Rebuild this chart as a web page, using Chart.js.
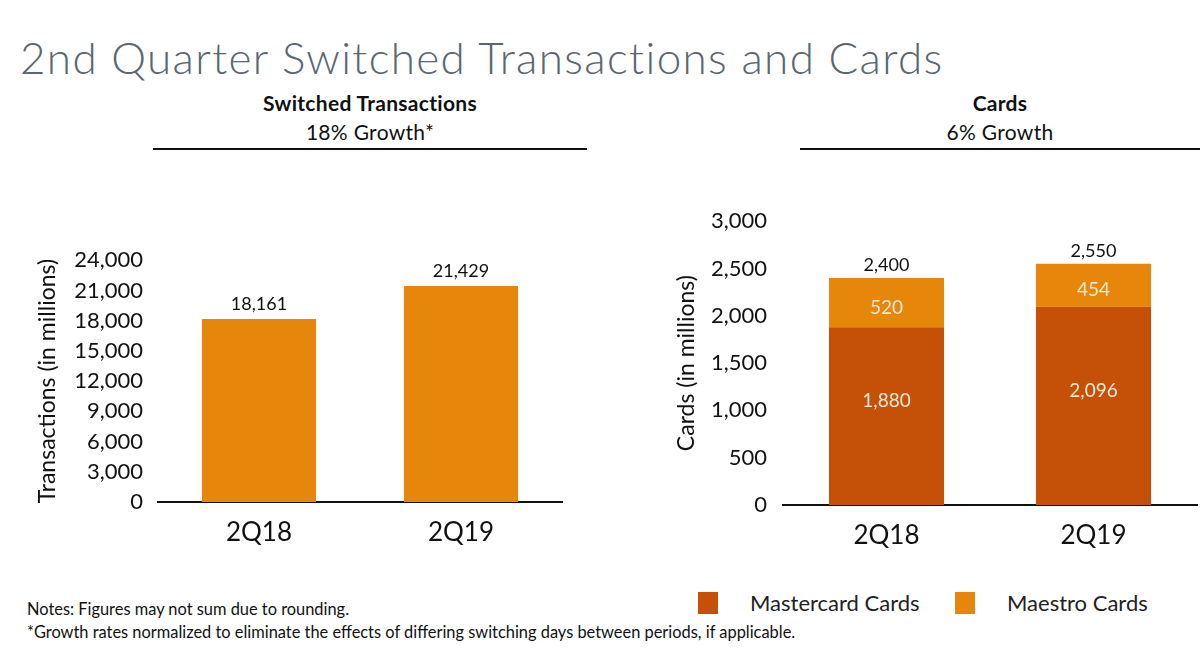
<!DOCTYPE html>
<html>
<head>
<meta charset="utf-8">
<script src="https://cdn.jsdelivr.net/npm/chart.js@4.4.1/dist/chart.umd.min.js"></script>
<style>
  body { margin: 0; width: 1200px; height: 651px; background: #fff; font-family: Lato, "Noto Sans", sans-serif; position: relative; overflow: hidden; }
  .abs { position: absolute; }
  #title { left: 20px; top: 31px; font-size: 44px; font-weight: 300; color: #5b6670; white-space: nowrap; letter-spacing: 1.35px; }
  .head { text-align: center; color: #111; font-size: 21px; line-height: 29px; letter-spacing: 0.3px; border-bottom: 2px solid #111; }
  .head b { font-weight: 700; }
  .notes { left: 27px; font-size: 16.4px; color: #111; white-space: nowrap; }
  .legend { top: 589px; font-size: 22px; color: #222; display: flex; align-items: center; }
  .legend span.sw { display: inline-block; width: 20px; height: 22px; margin-right: 32px; }
</style>
</head>
<body>
<div id="title" class="abs">2nd Quarter Switched Transactions and Cards</div>

<div class="abs head" style="left:153px; top:88px; width:434px; height:60px;">
  <b>Switched Transactions</b><br>18% Growth*
</div>
<div class="abs head" style="left:800px; top:88px; width:400px; height:60px;">
  <b>Cards</b><br>6% Growth
</div>

<canvas id="txChart" class="abs" width="580" height="320" style="left:0; top:240px;"></canvas>
<canvas id="cardChart" class="abs" width="600" height="360" style="left:600px; top:200px;"></canvas>

<div class="abs legend" style="left:698px;"><span class="sw" id="swMc"></span>Mastercard Cards</div>
<div class="abs legend" style="left:955px;"><span class="sw" id="swMa"></span>Maestro Cards</div>

<div class="abs notes" style="top:599px;">Notes: Figures may not sum due to rounding.</div>
<div class="abs notes" style="top:622px;">*Growth rates normalized to eliminate the effects of differing switching days between periods, if applicable.</div>

<script>
// data
const quarters = ['2Q18', '2Q19'];
const transactions = [18161, 21429];
const mastercardCards = [1880, 2096];
const maestroCards = [520, 454];
const cardTotals = [2400, 2550];

const darkOrange = '#c55109';
const lightOrange = '#e6870b';
const font = 'Lato, "Noto Sans", sans-serif';

document.getElementById('swMc').style.background = darkOrange;
document.getElementById('swMa').style.background = lightOrange;

const fmt = (v) => v.toLocaleString('en-US');

// fixed box sizes so the plot areas land where they are on the slide
function fixWidth(w) { return (scale) => { scale.width = w; }; }
function fixHeight(h) { return (scale) => { scale.height = h; }; }

const barLabels = {
    id: 'barLabels',
    afterDatasetsDraw(chart, args, opts) {
        const c = chart.ctx;
        c.save();
        c.textAlign = 'center';
        c.textBaseline = 'middle';
        chart.data.datasets.forEach((ds, di) => {
            const meta = chart.getDatasetMeta(di);
            meta.data.forEach((bar, i) => {
                if (opts.inside) {
                    c.font = '19px ' + font;
                    c.fillStyle = '#fbe9d8';
                    const mid = (bar.y + bar.base) / 2 + (opts.shift[di] || 0);
                    c.fillText(fmt(ds.data[i]), bar.x, mid);
                }
            });
        });
        if (opts.totals) {
            const last = chart.getDatasetMeta(chart.data.datasets.length - 1);
            c.font = '18px ' + font;
            c.fillStyle = '#111';
            last.data.forEach((bar, i) => {
                c.fillText(fmt(opts.totals[i]), bar.x, bar.y - opts.gap);
            });
        }
        c.restore();
    }
};

const tickFont = { family: font, size: 22 };
const titleFont = { family: font, size: 23 };
const catFont = { family: font, size: 26 };

new Chart(document.getElementById('txChart'), {
    type: 'bar',
    data: {
        labels: quarters,
        datasets: [{
            label: 'Switched Transactions',
            data: transactions,
            backgroundColor: lightOrange,
            barPercentage: 1,
            categoryPercentage: 0.565
        }]
    },
    options: {
        responsive: false,
        animation: false,
        devicePixelRatio: 1,
        layout: { padding: { top: 11, right: 18, left: 0, bottom: 0 } },
        plugins: {
            legend: { display: false },
            tooltip: { enabled: false },
            barLabels: { totals: transactions, gap: 15 }
        },
        scales: {
            x: {
                grid: { display: false },
                border: { display: true, color: '#111', width: 2 },
                ticks: { color: '#111', font: catFont, padding: 7 },
                afterFit: fixHeight(58)
            },
            y: {
                min: 0, max: 24000,
                grid: { display: false },
                border: { display: false },
                ticks: { stepSize: 3000, color: '#111', font: tickFont, padding: 7, callback: (v) => fmt(v) },
                title: { display: true, text: 'Transactions (in millions)', color: '#111', font: titleFont, padding: { top: 34 } },
                afterFit: fixWidth(158)
            }
        }
    },
    plugins: [barLabels]
});

new Chart(document.getElementById('cardChart'), {
    type: 'bar',
    data: {
        labels: quarters,
        datasets: [{
            label: 'Mastercard Cards',
            data: mastercardCards,
            backgroundColor: darkOrange,
            barPercentage: 1,
            categoryPercentage: 0.556
        }, {
            label: 'Maestro Cards',
            data: maestroCards,
            backgroundColor: lightOrange,
            barPercentage: 1,
            categoryPercentage: 0.556
        }]
    },
    options: {
        responsive: false,
        animation: false,
        devicePixelRatio: 1,
        layout: { padding: { top: 19, right: 3, left: 0, bottom: 0 } },
        plugins: {
            legend: { display: false },
            tooltip: { enabled: false },
            barLabels: { inside: true, shift: [-15, 5], totals: cardTotals, gap: 13 }
        },
        scales: {
            x: {
                stacked: true,
                grid: { display: false },
                border: { display: true, color: '#111', width: 2 },
                ticks: { color: '#111', font: catFont, padding: 7 },
                afterFit: fixHeight(55)
            },
            y: {
                stacked: true,
                min: 0, max: 3000,
                grid: { display: false },
                border: { display: false },
                ticks: { stepSize: 500, color: '#111', font: tickFont, padding: 8, callback: (v) => fmt(v) },
                title: { display: true, text: 'Cards (in millions)', color: '#111', font: titleFont, padding: { top: 73 } },
                afterFit: fixWidth(183)
            }
        }
    },
    plugins: [barLabels]
});
</script>
</body>
</html>
